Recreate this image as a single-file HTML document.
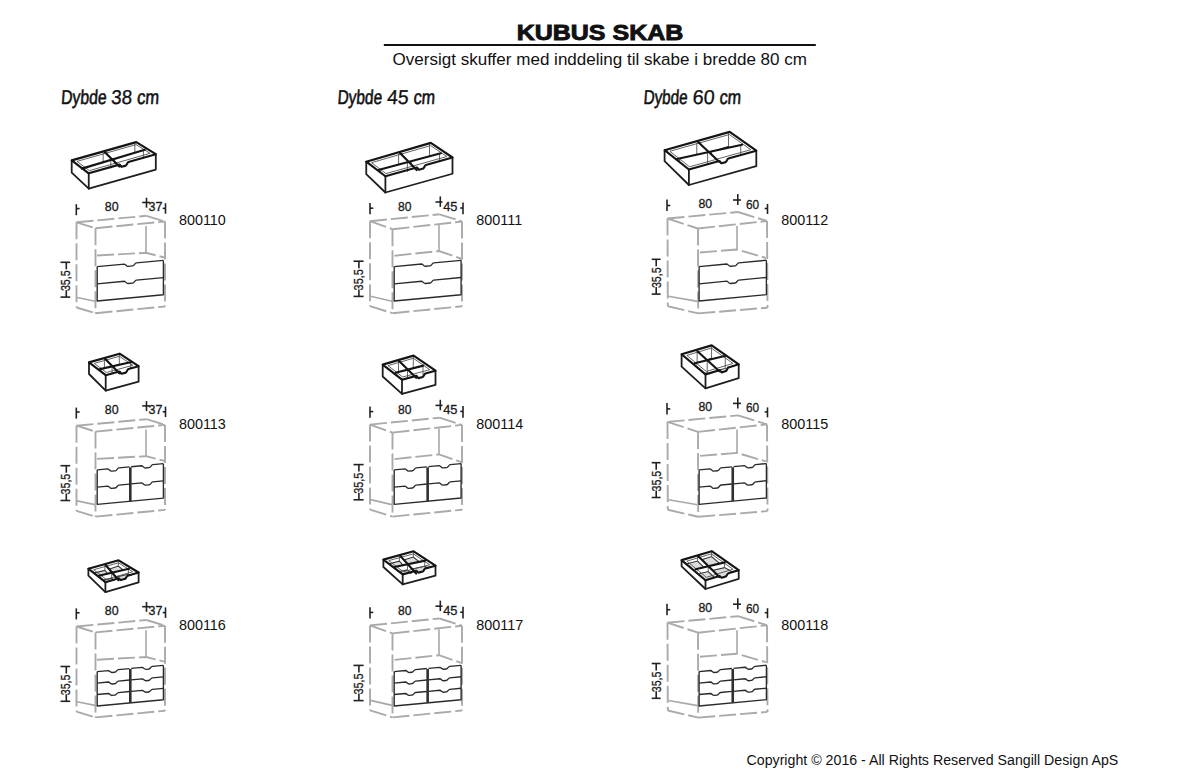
<!DOCTYPE html>
<html><head><meta charset="utf-8"><title>Kubus Skab</title>
<style>
html,body{margin:0;padding:0;background:#fff;}
body{width:1200px;height:777px;overflow:hidden;position:relative;}
svg{position:absolute;left:0;top:0;}
.ol2{fill:none;stroke:#1e1e1e;stroke-width:1.8;stroke-linejoin:round;stroke-linecap:round;}
.ol{fill:none;stroke:#141414;stroke-width:2.15;stroke-linejoin:round;stroke-linecap:round;}
.div{fill:none;stroke:#141414;stroke-width:2.15;stroke-linecap:round;}
.ig{fill:none;stroke:#505050;stroke-width:0.9;}
.ivg{stroke:#666;stroke-width:1.0;}
.flr{fill:#dcdcdc;stroke:#333;stroke-width:1.1;}
.gd{stroke:#aaaaaa;stroke-width:1.9;stroke-dasharray:17 4;fill:none;filter:blur(0.35px);}
.gd2{stroke:#a8a8a8;stroke-width:1.6;fill:none;filter:blur(0.35px);}
.dr{fill:none;stroke:#2a2a2a;stroke-width:1.35;stroke-linejoin:round;}
.drm{stroke:#303030;stroke-width:2.6;}
.tk{stroke:#222;stroke-width:1.6;}
.dim{font-family:"Liberation Sans",sans-serif;font-size:13px;fill:#1a1a1a;stroke:#1a1a1a;stroke-width:0.32;}
.code{font-family:"Liberation Sans",sans-serif;font-size:14.4px;fill:#111;}
.dyb{font-family:"Liberation Sans",sans-serif;font-size:20px;fill:#111;stroke:#111;stroke-width:0.6;}
.dybn{stroke-width:0.3;}
.t{font-family:"Liberation Sans",sans-serif;fill:#111;}
</style></head><body>
<svg width="1200" height="777" viewBox="0 0 1200 777">
<text x="516.7" y="40" class="t" font-size="22" font-weight="bold" stroke="#111" stroke-width="0.9" textLength="166.6" lengthAdjust="spacingAndGlyphs">KUBUS SKAB</text>
<line x1="383.8" y1="45" x2="815.8" y2="45" stroke="#111" stroke-width="1.8"/>
<text x="392.5" y="64.6" class="t" font-size="17.4" textLength="414.5" lengthAdjust="spacingAndGlyphs">Oversigt skuffer med inddeling til skabe i bredde 80 cm</text>
<text transform="translate(60.7,104) skewX(-4)" class="dyb" textLength="45.5" lengthAdjust="spacingAndGlyphs">Dybde</text>
<text transform="translate(110.7,104) skewX(-4)" class="dyb dybn" textLength="21.0" lengthAdjust="spacingAndGlyphs">38</text>
<text transform="translate(136.7,104) skewX(-4)" class="dyb" textLength="22" lengthAdjust="spacingAndGlyphs">cm</text>
<text transform="translate(337.2,104) skewX(-4)" class="dyb" textLength="44.5" lengthAdjust="spacingAndGlyphs">Dybde</text>
<text transform="translate(386.7,104) skewX(-4)" class="dyb dybn" textLength="21.5" lengthAdjust="spacingAndGlyphs">45</text>
<text transform="translate(413.2,104) skewX(-4)" class="dyb" textLength="21.5" lengthAdjust="spacingAndGlyphs">cm</text>
<text transform="translate(643.2,104) skewX(-4)" class="dyb" textLength="44" lengthAdjust="spacingAndGlyphs">Dybde</text>
<text transform="translate(692.2,104) skewX(-4)" class="dyb dybn" textLength="22" lengthAdjust="spacingAndGlyphs">60</text>
<text transform="translate(719.2,104) skewX(-4)" class="dyb" textLength="21.5" lengthAdjust="spacingAndGlyphs">cm</text>
<text x="746.5" y="764.6" class="t" font-size="14" textLength="371.8" lengthAdjust="spacingAndGlyphs">Copyright © 2016 - All Rights Reserved Sangill Design ApS</text>
<clipPath id="k1"><polygon points="71.70,160.40 104.60,152.00 112.20,159.54 81.90,168.60"/></clipPath>
<g clip-path="url(#k1)">
<polygon points="74.21,173.46 103.16,166.07 109.84,172.71 83.18,180.67" class="flr"/>
<line x1="74.21" y1="160.37" x2="74.21" y2="173.46" class="ivg"/>
<line x1="103.16" y1="152.98" x2="103.16" y2="166.07" class="ivg"/>
</g>
<clipPath id="k2"><polygon points="104.60,152.00 136.25,142.10 144.80,149.80 112.20,159.54"/></clipPath>
<g clip-path="url(#k2)">
<polygon points="106.98,164.95 134.84,156.24 142.36,163.02 113.67,171.59" class="flr"/>
<line x1="106.98" y1="151.86" x2="106.98" y2="164.95" class="ivg"/>
<line x1="134.84" y1="143.15" x2="134.84" y2="156.24" class="ivg"/>
</g>
<clipPath id="k3"><polygon points="81.90,168.60 112.20,159.54 119.30,166.60 88.75,173.30"/></clipPath>
<g clip-path="url(#k3)">
<polygon points="84.14,181.50 110.80,173.53 117.05,179.74 90.16,185.64" class="flr"/>
<line x1="84.14" y1="168.41" x2="84.14" y2="181.50" class="ivg"/>
<line x1="110.80" y1="160.44" x2="110.80" y2="173.53" class="ivg"/>
</g>
<clipPath id="k4"><polygon points="112.20,159.54 144.80,149.80 155.80,154.20 119.30,166.60"/></clipPath>
<g clip-path="url(#k4)">
<polygon points="114.70,172.39 143.39,163.82 153.07,167.69 120.95,178.60" class="flr"/>
<line x1="114.70" y1="159.30" x2="114.70" y2="172.39" class="ivg"/>
<line x1="143.39" y1="150.73" x2="143.39" y2="163.82" class="ivg"/>
</g>
<polygon points="76.99,161.39 136.09,144.62 150.07,153.35 89.34,170.64" class="ig"/>
<line x1="104.60" y1="152.00" x2="119.30" y2="166.60" class="div"/>
<line x1="81.90" y1="168.60" x2="144.80" y2="149.80" class="div"/>
<polyline points="71.70,160.40 71.70,172.60 88.75,188.70 155.80,169.60 155.80,154.20" class="ol2"/>
<line x1="88.75" y1="173.30" x2="88.75" y2="188.70" class="ol2"/>
<path d="M71.70,160.40 L136.25,142.10 L155.80,154.20 L128.44,161.99 C127.24,162.29 126.64,165.63 125.84,165.63 L121.61,166.84 C120.81,166.84 120.50,164.90 119.30,164.60 L88.75,173.30 Z" class="ol"/>
<line x1="76.50" y1="222.30" x2="76.50" y2="307.50" class="gd"/>
<line x1="95.50" y1="228.20" x2="95.50" y2="313.20" class="gd"/>
<line x1="165.00" y1="221.50" x2="165.00" y2="306.50" class="gd"/>
<line x1="76.50" y1="222.30" x2="146.50" y2="215.80" class="gd"/>
<line x1="95.50" y1="228.20" x2="165.00" y2="221.50" class="gd"/>
<line x1="76.50" y1="222.30" x2="95.50" y2="228.20" class="gd"/>
<line x1="146.50" y1="215.80" x2="165.00" y2="221.50" class="gd"/>
<line x1="76.50" y1="307.50" x2="95.50" y2="313.20" class="gd"/>
<line x1="95.50" y1="313.20" x2="165.00" y2="306.50" class="gd"/>
<line x1="146.00" y1="226.00" x2="146.00" y2="252.80" class="gd2"/>
<polyline points="97.00,255.50 146.00,252.80 164.50,257.50" class="gd"/>
<line x1="77.00" y1="297.50" x2="95.00" y2="301.20" class="gd2"/>
<polyline points="97.20,266.60 97.20,301.00 163.40,294.78 163.40,260.38" class="dr"/>
<path d="M97.20,266.60 L124.30,264.05 C125.80,264.25 126.30,266.46 127.90,266.31 L132.70,265.86 C134.30,265.71 134.80,263.12 136.30,262.92 L163.40,260.38" class="dr"/>
<path d="M97.20,283.80 L124.30,281.25 C125.80,281.45 126.30,283.66 127.90,283.51 L132.70,283.06 C134.30,282.91 134.80,280.32 136.30,280.12 L163.40,277.58" class="dr"/>
<line x1="76.30" y1="204.20" x2="76.30" y2="215.20" class="tk"/>
<line x1="76.30" y1="208.60" x2="79.60" y2="208.60" class="tk"/>
<text x="104.80" y="210.60" class="dim" textLength="13.80" lengthAdjust="spacingAndGlyphs">80</text>
<line x1="146.50" y1="197.70" x2="146.50" y2="207.70" class="tk"/>
<line x1="142.20" y1="202.50" x2="150.00" y2="202.50" class="tk"/>
<text x="148.60" y="210.60" class="dim" textLength="13.90" lengthAdjust="spacingAndGlyphs">37</text>
<line x1="165.50" y1="203.20" x2="165.50" y2="213.70" class="tk"/>
<line x1="162.70" y1="208.40" x2="165.50" y2="208.40" class="tk"/>
<line x1="60.50" y1="262.30" x2="70.20" y2="262.30" class="tk"/>
<line x1="66.30" y1="262.30" x2="66.30" y2="269.30" class="tk"/>
<line x1="60.50" y1="297.10" x2="70.20" y2="297.10" class="tk"/>
<line x1="66.30" y1="297.10" x2="66.30" y2="290.10" class="tk"/>
<text transform="translate(69.80,291.10) rotate(-90)" class="dim" textLength="20.80" lengthAdjust="spacingAndGlyphs">35,5</text>
<text x="178.90" y="224.80" class="code">800110</text>
<clipPath id="k5"><polygon points="366.25,161.70 400.00,152.90 408.75,161.86 378.30,170.00"/></clipPath>
<g clip-path="url(#k5)">
<polygon points="368.90,175.50 398.60,167.76 406.30,175.65 379.50,182.81" class="flr"/>
<line x1="368.90" y1="161.69" x2="368.90" y2="175.50" class="ivg"/>
<line x1="398.60" y1="153.95" x2="398.60" y2="167.76" class="ivg"/>
</g>
<clipPath id="k6"><polygon points="400.00,152.90 430.80,142.90 440.80,153.30 408.75,161.86"/></clipPath>
<g clip-path="url(#k6)">
<polygon points="402.41,166.69 429.51,157.89 438.31,167.05 410.11,174.58" class="flr"/>
<line x1="402.41" y1="152.88" x2="402.41" y2="166.69" class="ivg"/>
<line x1="429.51" y1="144.08" x2="429.51" y2="157.89" class="ivg"/>
</g>
<clipPath id="k7"><polygon points="378.30,170.00 408.75,161.86 416.70,170.00 385.40,176.25"/></clipPath>
<g clip-path="url(#k7)">
<polygon points="380.58,183.76 407.38,176.60 414.37,183.76 386.83,189.26" class="flr"/>
<line x1="380.58" y1="169.94" x2="380.58" y2="183.76" class="ivg"/>
<line x1="407.38" y1="162.78" x2="407.38" y2="176.60" class="ivg"/>
</g>
<clipPath id="k8"><polygon points="408.75,161.86 440.80,153.30 452.50,157.50 416.70,170.00"/></clipPath>
<g clip-path="url(#k8)">
<polygon points="411.27,175.53 439.47,168.00 449.76,171.69 418.26,182.69" class="flr"/>
<line x1="411.27" y1="161.72" x2="411.27" y2="175.53" class="ivg"/>
<line x1="439.47" y1="154.18" x2="439.47" y2="168.00" class="ivg"/>
</g>
<polygon points="371.53,162.68 430.61,145.56 446.81,156.52 385.99,173.60" class="ig"/>
<line x1="400.00" y1="152.90" x2="416.70" y2="170.00" class="div"/>
<line x1="378.30" y1="170.00" x2="440.80" y2="153.30" class="div"/>
<polyline points="366.25,161.70 366.25,174.20 385.40,192.50 452.50,173.75 452.50,157.50" class="ol2"/>
<line x1="385.40" y1="176.25" x2="385.40" y2="192.50" class="ol2"/>
<path d="M366.25,161.70 L430.80,142.90 L452.50,157.50 L425.85,164.95 C424.65,165.25 424.05,168.57 423.25,168.57 L419.01,169.76 C418.21,169.76 417.90,167.80 416.70,167.50 L385.40,176.25 Z" class="ol"/>
<line x1="370.00" y1="221.20" x2="370.00" y2="306.20" class="gd"/>
<line x1="392.50" y1="229.20" x2="392.50" y2="313.20" class="gd"/>
<line x1="462.00" y1="221.50" x2="462.00" y2="306.30" class="gd"/>
<line x1="370.00" y1="221.20" x2="439.40" y2="214.30" class="gd"/>
<line x1="392.50" y1="229.20" x2="462.00" y2="221.50" class="gd"/>
<line x1="370.00" y1="221.20" x2="392.50" y2="229.20" class="gd"/>
<line x1="439.40" y1="214.30" x2="462.00" y2="221.50" class="gd"/>
<line x1="370.00" y1="306.20" x2="392.50" y2="313.20" class="gd"/>
<line x1="392.50" y1="313.20" x2="462.00" y2="306.30" class="gd"/>
<line x1="439.00" y1="225.00" x2="439.00" y2="251.00" class="gd2"/>
<polyline points="394.50,255.70 439.00,251.00 462.00,259.00" class="gd"/>
<line x1="370.50" y1="296.20" x2="392.00" y2="301.20" class="gd2"/>
<polyline points="394.20,266.60 394.20,301.00 461.10,294.71 461.10,260.31" class="dr"/>
<path d="M394.20,266.60 L421.65,264.02 C423.15,264.22 423.65,266.43 425.25,266.28 L430.05,265.83 C431.65,265.68 432.15,263.09 433.65,262.89 L461.10,260.31" class="dr"/>
<path d="M394.20,283.80 L421.65,281.22 C423.15,281.42 423.65,283.63 425.25,283.48 L430.05,283.03 C431.65,282.88 432.15,280.29 433.65,280.09 L461.10,277.51" class="dr"/>
<line x1="370.00" y1="203.00" x2="370.00" y2="214.30" class="tk"/>
<line x1="370.00" y1="208.20" x2="373.30" y2="208.20" class="tk"/>
<text x="398.10" y="210.80" class="dim" textLength="13.50" lengthAdjust="spacingAndGlyphs">80</text>
<line x1="440.30" y1="196.40" x2="440.30" y2="206.90" class="tk"/>
<line x1="435.50" y1="202.00" x2="442.50" y2="202.00" class="tk"/>
<text x="443.20" y="210.80" class="dim" textLength="14.30" lengthAdjust="spacingAndGlyphs">45</text>
<line x1="463.00" y1="202.50" x2="463.00" y2="214.30" class="tk"/>
<line x1="460.20" y1="208.00" x2="463.00" y2="208.00" class="tk"/>
<line x1="353.50" y1="261.20" x2="363.60" y2="261.20" class="tk"/>
<line x1="358.90" y1="261.20" x2="358.90" y2="268.20" class="tk"/>
<line x1="353.50" y1="296.40" x2="363.60" y2="296.40" class="tk"/>
<line x1="358.90" y1="296.40" x2="358.90" y2="289.40" class="tk"/>
<text transform="translate(362.80,290.40) rotate(-90)" class="dim" textLength="21.20" lengthAdjust="spacingAndGlyphs">35,5</text>
<text x="476.30" y="224.80" class="code">800111</text>
<clipPath id="k9"><polygon points="664.60,150.20 698.10,142.00 708.81,152.00 677.00,159.00"/></clipPath>
<g clip-path="url(#k9)">
<polygon points="667.30,163.45 696.78,156.23 706.21,165.03 678.22,171.19" class="flr"/>
<line x1="667.30" y1="150.27" x2="667.30" y2="163.45" class="ivg"/>
<line x1="696.78" y1="143.06" x2="696.78" y2="156.23" class="ivg"/>
</g>
<clipPath id="k10"><polygon points="698.10,142.00 729.70,131.90 742.00,144.70 708.81,152.00"/></clipPath>
<g clip-path="url(#k10)">
<polygon points="700.69,155.25 728.49,146.37 739.32,157.63 710.11,164.05" class="flr"/>
<line x1="700.69" y1="142.08" x2="700.69" y2="155.25" class="ivg"/>
<line x1="728.49" y1="133.19" x2="728.49" y2="146.37" class="ivg"/>
</g>
<clipPath id="k11"><polygon points="677.00,159.00 708.81,152.00 719.20,161.70 688.90,169.50"/></clipPath>
<g clip-path="url(#k11)">
<polygon points="679.58,172.36 707.57,166.20 716.71,174.74 690.05,181.60" class="flr"/>
<line x1="679.58" y1="159.19" x2="679.58" y2="172.36" class="ivg"/>
<line x1="707.57" y1="153.03" x2="707.57" y2="166.20" class="ivg"/>
</g>
<clipPath id="k12"><polygon points="708.81,152.00 742.00,144.70 756.30,150.70 719.20,161.70"/></clipPath>
<g clip-path="url(#k12)">
<polygon points="711.54,165.21 740.75,158.78 753.33,164.06 720.69,173.74" class="flr"/>
<line x1="711.54" y1="152.03" x2="711.54" y2="165.21" class="ivg"/>
<line x1="740.75" y1="145.61" x2="740.75" y2="158.78" class="ivg"/>
</g>
<polygon points="669.85,151.25 729.37,134.53 750.75,149.71 689.53,166.80" class="ig"/>
<line x1="698.10" y1="142.00" x2="719.20" y2="161.70" class="div"/>
<line x1="677.00" y1="159.00" x2="742.00" y2="144.70" class="div"/>
<polyline points="664.60,150.20 664.60,161.20 688.90,185.00 756.30,166.20 756.30,150.70" class="ol2"/>
<line x1="688.90" y1="169.50" x2="688.90" y2="185.00" class="ol2"/>
<path d="M664.60,150.20 L729.70,131.90 L756.30,150.70 L728.35,158.50 C727.15,158.80 726.55,162.12 725.75,162.12 L721.51,163.30 C720.71,163.30 720.40,161.35 719.20,161.05 L688.90,169.50 Z" class="ol"/>
<line x1="667.50" y1="218.50" x2="667.80" y2="306.30" class="gd"/>
<line x1="698.00" y1="228.50" x2="698.20" y2="313.40" class="gd"/>
<line x1="767.00" y1="221.00" x2="767.50" y2="307.70" class="gd"/>
<line x1="667.50" y1="218.50" x2="738.00" y2="212.00" class="gd"/>
<line x1="698.00" y1="228.50" x2="767.00" y2="221.00" class="gd"/>
<line x1="667.50" y1="218.50" x2="698.00" y2="228.50" class="gd"/>
<line x1="738.00" y1="212.00" x2="767.00" y2="221.00" class="gd"/>
<line x1="667.80" y1="306.30" x2="698.20" y2="313.40" class="gd"/>
<line x1="698.20" y1="313.40" x2="767.50" y2="307.70" class="gd"/>
<line x1="737.00" y1="226.00" x2="737.00" y2="249.50" class="gd2"/>
<polyline points="700.00,252.50 737.00,249.50 766.00,258.00" class="gd"/>
<line x1="668.30" y1="296.30" x2="697.70" y2="301.40" class="gd2"/>
<polyline points="699.10,266.60 699.10,301.00 766.40,294.67 766.40,260.27" class="dr"/>
<path d="M699.10,266.60 L726.75,264.00 C728.25,264.20 728.75,266.41 730.35,266.26 L735.15,265.81 C736.75,265.66 737.25,263.07 738.75,262.87 L766.40,260.27" class="dr"/>
<path d="M699.10,283.80 L726.75,281.20 C728.25,281.40 728.75,283.61 730.35,283.46 L735.15,283.01 C736.75,282.86 737.25,280.27 738.75,280.07 L766.40,277.47" class="dr"/>
<line x1="667.00" y1="199.50" x2="667.00" y2="211.00" class="tk"/>
<line x1="667.00" y1="205.50" x2="670.30" y2="205.50" class="tk"/>
<text x="698.40" y="207.50" class="dim" textLength="13.70" lengthAdjust="spacingAndGlyphs">80</text>
<line x1="737.80" y1="194.00" x2="737.80" y2="205.00" class="tk"/>
<line x1="733.00" y1="200.00" x2="741.00" y2="200.00" class="tk"/>
<text x="745.90" y="208.50" class="dim" textLength="13.20" lengthAdjust="spacingAndGlyphs">60</text>
<line x1="767.50" y1="204.00" x2="767.50" y2="214.00" class="tk"/>
<line x1="764.70" y1="208.50" x2="767.50" y2="208.50" class="tk"/>
<line x1="651.70" y1="259.30" x2="660.60" y2="259.30" class="tk"/>
<line x1="656.20" y1="259.30" x2="656.20" y2="266.30" class="tk"/>
<line x1="651.70" y1="294.10" x2="660.60" y2="294.10" class="tk"/>
<line x1="656.20" y1="294.10" x2="656.20" y2="287.10" class="tk"/>
<text transform="translate(660.70,288.10) rotate(-90)" class="dim" textLength="20.80" lengthAdjust="spacingAndGlyphs">35,5</text>
<text x="781.20" y="224.80" class="code">800112</text>
<clipPath id="k13"><polygon points="89.00,362.40 104.80,358.50 112.44,366.30 100.00,369.10"/></clipPath>
<g clip-path="url(#k13)">
<polygon points="90.51,375.78 104.41,372.34 111.13,379.20 100.19,381.67" class="flr"/>
<line x1="90.51" y1="362.60" x2="90.51" y2="375.78" class="ivg"/>
<line x1="104.41" y1="359.17" x2="104.41" y2="372.34" class="ivg"/>
</g>
<clipPath id="k14"><polygon points="104.80,358.50 119.60,353.70 131.50,362.00 112.44,366.30"/></clipPath>
<g clip-path="url(#k14)">
<polygon points="106.27,371.87 119.30,367.65 129.77,374.95 113.00,378.73" class="flr"/>
<line x1="106.27" y1="358.69" x2="106.27" y2="371.87" class="ivg"/>
<line x1="119.30" y1="354.47" x2="119.30" y2="367.65" class="ivg"/>
</g>
<clipPath id="k15"><polygon points="100.00,369.10 112.44,366.30 119.30,373.30 105.70,375.20"/></clipPath>
<g clip-path="url(#k15)">
<polygon points="101.12,382.50 112.07,380.03 118.11,386.20 106.14,387.87" class="flr"/>
<line x1="101.12" y1="369.32" x2="101.12" y2="382.50" class="ivg"/>
<line x1="112.07" y1="366.86" x2="112.07" y2="380.03" class="ivg"/>
</g>
<clipPath id="k16"><polygon points="112.44,366.30 131.50,362.00 138.60,366.20 119.30,373.30"/></clipPath>
<g clip-path="url(#k16)">
<polygon points="114.00,379.55 130.78,375.77 137.02,379.46 120.04,385.71" class="flr"/>
<line x1="114.00" y1="366.37" x2="114.00" y2="379.55" class="ivg"/>
<line x1="130.78" y1="362.59" x2="130.78" y2="375.77" class="ivg"/>
</g>
<polygon points="94.30,363.40 119.39,356.31 132.82,365.26 106.39,372.53" class="ig"/>
<line x1="104.80" y1="358.50" x2="119.30" y2="373.30" class="div"/>
<line x1="100.00" y1="369.10" x2="131.50" y2="362.00" class="div"/>
<polyline points="89.00,362.40 89.00,374.00 105.70,390.70 138.60,381.70 138.60,366.20" class="ol2"/>
<line x1="105.70" y1="375.20" x2="105.70" y2="390.70" class="ol2"/>
<path d="M89.00,362.40 L119.60,353.70 L138.60,366.20 L128.46,368.97 C127.26,369.27 126.66,372.59 125.86,372.59 L121.61,373.75 C120.81,373.75 120.50,371.78 119.30,371.48 L105.70,375.20 Z" class="ol"/>
<line x1="76.50" y1="425.70" x2="76.50" y2="510.90" class="gd"/>
<line x1="95.50" y1="431.60" x2="95.50" y2="516.60" class="gd"/>
<line x1="165.00" y1="424.90" x2="165.00" y2="509.90" class="gd"/>
<line x1="76.50" y1="425.70" x2="146.50" y2="419.20" class="gd"/>
<line x1="95.50" y1="431.60" x2="165.00" y2="424.90" class="gd"/>
<line x1="76.50" y1="425.70" x2="95.50" y2="431.60" class="gd"/>
<line x1="146.50" y1="419.20" x2="165.00" y2="424.90" class="gd"/>
<line x1="76.50" y1="510.90" x2="95.50" y2="516.60" class="gd"/>
<line x1="95.50" y1="516.60" x2="165.00" y2="509.90" class="gd"/>
<line x1="146.00" y1="429.40" x2="146.00" y2="456.20" class="gd2"/>
<polyline points="97.00,458.90 146.00,456.20 164.50,460.90" class="gd"/>
<line x1="77.00" y1="500.90" x2="95.00" y2="504.60" class="gd2"/>
<polyline points="97.20,469.90 97.20,504.30 163.40,498.08 163.40,463.68" class="dr"/>
<line x1="130.30" y1="467.29" x2="130.30" y2="501.19" class="drm"/>
<path d="M97.20,469.90 L107.85,468.90 C109.35,469.10 109.85,471.31 111.45,471.16 L115.25,470.80 C116.85,470.65 117.35,468.06 118.85,467.86 L129.50,466.86" class="dr"/>
<path d="M131.10,466.71 L141.75,465.71 C143.25,465.91 143.75,468.12 145.35,467.97 L149.15,467.62 C150.75,467.47 151.25,464.88 152.75,464.68 L163.40,463.68" class="dr"/>
<path d="M97.20,487.10 L107.85,486.10 C109.35,486.30 109.85,488.51 111.45,488.36 L115.25,488.00 C116.85,487.85 117.35,485.26 118.85,485.06 L129.50,484.06" class="dr"/>
<path d="M131.10,483.91 L141.75,482.91 C143.25,483.11 143.75,485.32 145.35,485.17 L149.15,484.82 C150.75,484.67 151.25,482.08 152.75,481.88 L163.40,480.88" class="dr"/>
<line x1="76.30" y1="407.60" x2="76.30" y2="418.60" class="tk"/>
<line x1="76.30" y1="412.00" x2="79.60" y2="412.00" class="tk"/>
<text x="104.80" y="414.00" class="dim" textLength="13.80" lengthAdjust="spacingAndGlyphs">80</text>
<line x1="146.50" y1="401.10" x2="146.50" y2="411.10" class="tk"/>
<line x1="142.20" y1="405.90" x2="150.00" y2="405.90" class="tk"/>
<text x="148.60" y="414.00" class="dim" textLength="13.90" lengthAdjust="spacingAndGlyphs">37</text>
<line x1="165.50" y1="406.60" x2="165.50" y2="417.10" class="tk"/>
<line x1="162.70" y1="411.80" x2="165.50" y2="411.80" class="tk"/>
<line x1="60.50" y1="465.70" x2="70.20" y2="465.70" class="tk"/>
<line x1="66.30" y1="465.70" x2="66.30" y2="472.70" class="tk"/>
<line x1="60.50" y1="500.50" x2="70.20" y2="500.50" class="tk"/>
<line x1="66.30" y1="500.50" x2="66.30" y2="493.50" class="tk"/>
<text transform="translate(69.80,494.50) rotate(-90)" class="dim" textLength="20.80" lengthAdjust="spacingAndGlyphs">35,5</text>
<text x="178.90" y="428.90" class="code">800113</text>
<clipPath id="k17"><polygon points="382.70,364.60 398.80,360.80 407.78,369.58 395.60,372.70"/></clipPath>
<g clip-path="url(#k17)">
<polygon points="384.32,376.95 398.49,373.60 406.40,381.33 395.67,384.08" class="flr"/>
<line x1="384.32" y1="364.88" x2="384.32" y2="376.95" class="ivg"/>
<line x1="398.49" y1="361.53" x2="398.49" y2="373.60" class="ivg"/>
</g>
<clipPath id="k18"><polygon points="398.80,360.80 413.60,355.60 423.30,365.60 407.78,369.58"/></clipPath>
<g clip-path="url(#k18)">
<polygon points="400.25,373.12 413.27,368.55 421.81,377.35 408.15,380.85" class="flr"/>
<line x1="400.25" y1="361.05" x2="400.25" y2="373.12" class="ivg"/>
<line x1="413.27" y1="356.48" x2="413.27" y2="368.55" class="ivg"/>
</g>
<clipPath id="k19"><polygon points="395.60,372.70 407.78,369.58 416.20,377.80 402.00,379.70"/></clipPath>
<g clip-path="url(#k19)">
<polygon points="396.78,385.04 407.50,382.29 414.90,389.53 402.41,391.20" class="flr"/>
<line x1="396.78" y1="372.97" x2="396.78" y2="385.04" class="ivg"/>
<line x1="407.50" y1="370.22" x2="407.50" y2="382.29" class="ivg"/>
</g>
<clipPath id="k20"><polygon points="407.78,369.58 423.30,365.60 435.50,370.70 416.20,377.80"/></clipPath>
<g clip-path="url(#k20)">
<polygon points="409.33,381.81 422.99,378.31 433.72,382.80 416.74,389.04" class="flr"/>
<line x1="409.33" y1="369.74" x2="409.33" y2="381.81" class="ivg"/>
<line x1="422.99" y1="366.24" x2="422.99" y2="378.31" class="ivg"/>
</g>
<polygon points="387.97,365.61 413.37,358.29 429.73,369.69 402.73,377.01" class="ig"/>
<line x1="398.80" y1="360.80" x2="416.20" y2="377.80" class="div"/>
<line x1="395.60" y1="372.70" x2="423.30" y2="365.60" class="div"/>
<polyline points="382.70,364.60 382.70,376.50 402.00,393.90 435.50,384.90 435.50,370.70" class="ol2"/>
<line x1="402.00" y1="379.70" x2="402.00" y2="393.90" class="ol2"/>
<path d="M382.70,364.60 L413.60,355.60 L435.50,370.70 L425.37,373.42 C424.17,373.72 423.57,377.02 422.77,377.02 L418.52,378.16 C417.72,378.16 417.40,376.19 416.20,375.89 L402.00,379.70 Z" class="ol"/>
<line x1="370.00" y1="424.60" x2="370.00" y2="509.60" class="gd"/>
<line x1="392.50" y1="432.60" x2="392.50" y2="516.60" class="gd"/>
<line x1="462.00" y1="424.90" x2="462.00" y2="509.70" class="gd"/>
<line x1="370.00" y1="424.60" x2="439.40" y2="417.70" class="gd"/>
<line x1="392.50" y1="432.60" x2="462.00" y2="424.90" class="gd"/>
<line x1="370.00" y1="424.60" x2="392.50" y2="432.60" class="gd"/>
<line x1="439.40" y1="417.70" x2="462.00" y2="424.90" class="gd"/>
<line x1="370.00" y1="509.60" x2="392.50" y2="516.60" class="gd"/>
<line x1="392.50" y1="516.60" x2="462.00" y2="509.70" class="gd"/>
<line x1="439.00" y1="428.40" x2="439.00" y2="454.40" class="gd2"/>
<polyline points="394.50,459.10 439.00,454.40 462.00,462.40" class="gd"/>
<line x1="370.50" y1="499.60" x2="392.00" y2="504.60" class="gd2"/>
<polyline points="394.20,469.90 394.20,504.30 461.10,498.01 461.10,463.61" class="dr"/>
<line x1="427.65" y1="467.26" x2="427.65" y2="501.16" class="drm"/>
<path d="M394.20,469.90 L405.02,468.88 C406.52,469.08 407.02,471.29 408.62,471.14 L412.42,470.79 C414.02,470.64 414.52,468.05 416.02,467.85 L426.85,466.83" class="dr"/>
<path d="M428.45,466.68 L439.27,465.66 C440.77,465.86 441.27,468.07 442.88,467.92 L446.67,467.57 C448.27,467.42 448.77,464.83 450.27,464.63 L461.10,463.61" class="dr"/>
<path d="M394.20,487.10 L405.02,486.08 C406.52,486.28 407.02,488.49 408.62,488.34 L412.42,487.99 C414.02,487.84 414.52,485.25 416.02,485.05 L426.85,484.03" class="dr"/>
<path d="M428.45,483.88 L439.27,482.86 C440.77,483.06 441.27,485.27 442.88,485.12 L446.67,484.77 C448.27,484.62 448.77,482.03 450.27,481.83 L461.10,480.81" class="dr"/>
<line x1="370.00" y1="406.40" x2="370.00" y2="417.70" class="tk"/>
<line x1="370.00" y1="411.60" x2="373.30" y2="411.60" class="tk"/>
<text x="398.10" y="414.20" class="dim" textLength="13.50" lengthAdjust="spacingAndGlyphs">80</text>
<line x1="440.30" y1="399.80" x2="440.30" y2="410.30" class="tk"/>
<line x1="435.50" y1="405.40" x2="442.50" y2="405.40" class="tk"/>
<text x="443.20" y="414.20" class="dim" textLength="14.30" lengthAdjust="spacingAndGlyphs">45</text>
<line x1="463.00" y1="405.90" x2="463.00" y2="417.70" class="tk"/>
<line x1="460.20" y1="411.40" x2="463.00" y2="411.40" class="tk"/>
<line x1="353.50" y1="464.60" x2="363.60" y2="464.60" class="tk"/>
<line x1="358.90" y1="464.60" x2="358.90" y2="471.60" class="tk"/>
<line x1="353.50" y1="499.80" x2="363.60" y2="499.80" class="tk"/>
<line x1="358.90" y1="499.80" x2="358.90" y2="492.80" class="tk"/>
<text transform="translate(362.80,493.80) rotate(-90)" class="dim" textLength="21.20" lengthAdjust="spacingAndGlyphs">35,5</text>
<text x="476.30" y="428.90" class="code">800114</text>
<clipPath id="k21"><polygon points="681.60,354.30 697.40,351.20 707.25,360.20 694.70,363.20"/></clipPath>
<g clip-path="url(#k21)">
<polygon points="683.24,366.47 697.14,363.74 705.80,371.65 694.76,374.30" class="flr"/>
<line x1="683.24" y1="354.65" x2="683.24" y2="366.47" class="ivg"/>
<line x1="697.14" y1="351.92" x2="697.14" y2="363.74" class="ivg"/>
</g>
<clipPath id="k22"><polygon points="697.40,351.20 711.70,345.40 725.60,355.80 707.25,360.20"/></clipPath>
<g clip-path="url(#k22)">
<polygon points="698.97,363.25 711.55,358.14 723.79,367.30 707.63,371.16" class="flr"/>
<line x1="698.97" y1="351.43" x2="698.97" y2="363.25" class="ivg"/>
<line x1="711.55" y1="346.33" x2="711.55" y2="358.14" class="ivg"/>
</g>
<clipPath id="k23"><polygon points="694.70,363.20 707.25,360.20 719.40,371.30 705.50,374.40"/></clipPath>
<g clip-path="url(#k23)">
<polygon points="696.14,375.50 707.18,372.86 717.88,382.63 705.65,385.36" class="flr"/>
<line x1="696.14" y1="363.69" x2="696.14" y2="375.50" class="ivg"/>
<line x1="707.18" y1="361.04" x2="707.18" y2="372.86" class="ivg"/>
</g>
<clipPath id="k24"><polygon points="707.25,360.20 725.60,355.80 738.70,364.30 719.40,371.30"/></clipPath>
<g clip-path="url(#k24)">
<polygon points="709.10,372.33 725.26,368.47 736.78,375.95 719.80,382.11" class="flr"/>
<line x1="709.10" y1="360.52" x2="709.10" y2="372.33" class="ivg"/>
<line x1="725.26" y1="356.65" x2="725.26" y2="368.47" class="ivg"/>
</g>
<polygon points="686.80,355.37 711.39,348.08 732.96,363.44 706.35,371.51" class="ig"/>
<line x1="697.40" y1="351.20" x2="719.40" y2="371.30" class="div"/>
<line x1="694.70" y1="363.20" x2="725.60" y2="355.80" class="div"/>
<polyline points="681.60,354.30 681.60,366.70 705.50,388.30 738.70,378.20 738.70,364.30" class="ol2"/>
<line x1="705.50" y1="374.40" x2="705.50" y2="388.30" class="ol2"/>
<path d="M681.60,354.30 L711.70,345.40 L738.70,364.30 L728.49,367.41 C727.29,367.71 726.71,371.09 725.91,371.09 L721.70,372.37 C720.90,372.37 720.60,370.47 719.40,370.17 L705.50,374.40 Z" class="ol"/>
<line x1="667.50" y1="421.90" x2="667.80" y2="509.70" class="gd"/>
<line x1="698.00" y1="431.90" x2="698.20" y2="516.80" class="gd"/>
<line x1="767.00" y1="424.40" x2="767.50" y2="511.10" class="gd"/>
<line x1="667.50" y1="421.90" x2="738.00" y2="415.40" class="gd"/>
<line x1="698.00" y1="431.90" x2="767.00" y2="424.40" class="gd"/>
<line x1="667.50" y1="421.90" x2="698.00" y2="431.90" class="gd"/>
<line x1="738.00" y1="415.40" x2="767.00" y2="424.40" class="gd"/>
<line x1="667.80" y1="509.70" x2="698.20" y2="516.80" class="gd"/>
<line x1="698.20" y1="516.80" x2="767.50" y2="511.10" class="gd"/>
<line x1="737.00" y1="429.40" x2="737.00" y2="452.90" class="gd2"/>
<polyline points="700.00,455.90 737.00,452.90 766.00,461.40" class="gd"/>
<line x1="668.30" y1="499.70" x2="697.70" y2="504.80" class="gd2"/>
<polyline points="699.10,469.90 699.10,504.30 766.40,497.97 766.40,463.57" class="dr"/>
<line x1="732.75" y1="467.24" x2="732.75" y2="501.14" class="drm"/>
<path d="M699.10,469.90 L710.03,468.87 C711.53,469.07 712.03,471.29 713.63,471.13 L717.43,470.78 C719.03,470.63 719.53,468.04 721.03,467.84 L731.95,466.81" class="dr"/>
<path d="M733.55,466.66 L744.47,465.63 C745.97,465.83 746.47,468.05 748.07,467.90 L751.87,467.54 C753.47,467.39 753.97,464.80 755.47,464.60 L766.40,463.57" class="dr"/>
<path d="M699.10,487.10 L710.03,486.07 C711.53,486.27 712.03,488.49 713.63,488.33 L717.43,487.98 C719.03,487.83 719.53,485.24 721.03,485.04 L731.95,484.01" class="dr"/>
<path d="M733.55,483.86 L744.47,482.83 C745.97,483.03 746.47,485.25 748.07,485.10 L751.87,484.74 C753.47,484.59 753.97,482.00 755.47,481.80 L766.40,480.77" class="dr"/>
<line x1="667.00" y1="402.90" x2="667.00" y2="414.40" class="tk"/>
<line x1="667.00" y1="408.90" x2="670.30" y2="408.90" class="tk"/>
<text x="698.40" y="410.90" class="dim" textLength="13.70" lengthAdjust="spacingAndGlyphs">80</text>
<line x1="737.80" y1="397.40" x2="737.80" y2="408.40" class="tk"/>
<line x1="733.00" y1="403.40" x2="741.00" y2="403.40" class="tk"/>
<text x="745.90" y="411.90" class="dim" textLength="13.20" lengthAdjust="spacingAndGlyphs">60</text>
<line x1="767.50" y1="407.40" x2="767.50" y2="417.40" class="tk"/>
<line x1="764.70" y1="411.90" x2="767.50" y2="411.90" class="tk"/>
<line x1="651.70" y1="462.70" x2="660.60" y2="462.70" class="tk"/>
<line x1="656.20" y1="462.70" x2="656.20" y2="469.70" class="tk"/>
<line x1="651.70" y1="497.50" x2="660.60" y2="497.50" class="tk"/>
<line x1="656.20" y1="497.50" x2="656.20" y2="490.50" class="tk"/>
<text transform="translate(660.70,491.50) rotate(-90)" class="dim" textLength="20.80" lengthAdjust="spacingAndGlyphs">35,5</text>
<text x="781.20" y="428.90" class="code">800115</text>
<clipPath id="k25"><polygon points="88.40,568.70 105.40,564.80 112.08,572.60 98.70,575.70"/></clipPath>
<g clip-path="url(#k25)">
<polygon points="89.93,573.86 104.89,570.43 110.77,577.29 98.99,580.02" class="flr"/>
<line x1="89.93" y1="568.91" x2="89.93" y2="573.86" class="ivg"/>
<line x1="104.89" y1="565.48" x2="104.89" y2="570.43" class="ivg"/>
</g>
<clipPath id="k26"><polygon points="105.40,564.80 118.60,560.30 128.90,568.70 112.08,572.60"/></clipPath>
<g clip-path="url(#k26)">
<polygon points="106.70,569.97 118.32,566.01 127.38,573.40 112.58,576.83" class="flr"/>
<line x1="106.70" y1="565.02" x2="106.70" y2="569.97" class="ivg"/>
<line x1="118.32" y1="561.06" x2="118.32" y2="566.01" class="ivg"/>
</g>
<clipPath id="k27"><polygon points="98.70,575.70 112.08,572.60 118.60,580.20 105.40,582.20"/></clipPath>
<g clip-path="url(#k27)">
<polygon points="99.90,580.89 111.68,578.16 117.41,584.85 105.80,586.61" class="flr"/>
<line x1="99.90" y1="575.94" x2="99.90" y2="580.89" class="ivg"/>
<line x1="111.68" y1="573.21" x2="111.68" y2="578.16" class="ivg"/>
</g>
<clipPath id="k28"><polygon points="112.08,572.60 128.90,568.70 138.60,572.50 118.60,580.20"/></clipPath>
<g clip-path="url(#k28)">
<polygon points="113.58,577.66 128.38,574.23 136.91,577.57 119.31,584.35" class="flr"/>
<line x1="113.58" y1="572.71" x2="113.58" y2="577.66" class="ivg"/>
<line x1="128.38" y1="569.28" x2="128.38" y2="574.23" class="ivg"/>
</g>
<polygon points="93.68,569.74 118.43,562.81 132.70,571.73 106.19,579.42" class="ig"/>
<line x1="105.40" y1="564.80" x2="118.60" y2="580.20" class="div"/>
<line x1="98.70" y1="575.70" x2="128.90" y2="568.70" class="div"/>
<polyline points="88.40,568.70 88.40,575.70 105.40,592.10 138.60,582.40 138.60,572.50" class="ol2"/>
<line x1="105.40" y1="582.20" x2="105.40" y2="592.10" class="ol2"/>
<path d="M88.40,568.70 L118.60,560.30 L138.60,572.50 L127.72,575.68 C126.52,575.98 125.93,578.84 125.13,578.84 L120.90,580.07 C120.10,580.07 119.80,578.64 118.60,578.34 L105.40,582.20 Z" class="ol"/>
<line x1="76.50" y1="626.50" x2="76.50" y2="711.70" class="gd"/>
<line x1="95.50" y1="632.40" x2="95.50" y2="717.40" class="gd"/>
<line x1="165.00" y1="625.70" x2="165.00" y2="710.70" class="gd"/>
<line x1="76.50" y1="626.50" x2="146.50" y2="620.00" class="gd"/>
<line x1="95.50" y1="632.40" x2="165.00" y2="625.70" class="gd"/>
<line x1="76.50" y1="626.50" x2="95.50" y2="632.40" class="gd"/>
<line x1="146.50" y1="620.00" x2="165.00" y2="625.70" class="gd"/>
<line x1="76.50" y1="711.70" x2="95.50" y2="717.40" class="gd"/>
<line x1="95.50" y1="717.40" x2="165.00" y2="710.70" class="gd"/>
<line x1="146.00" y1="630.20" x2="146.00" y2="657.00" class="gd2"/>
<polyline points="97.00,659.70 146.00,657.00 164.50,661.70" class="gd"/>
<line x1="77.00" y1="701.70" x2="95.00" y2="705.40" class="gd2"/>
<polyline points="97.20,671.60 97.20,706.00 163.40,699.78 163.40,665.38" class="dr"/>
<line x1="130.30" y1="668.99" x2="130.30" y2="702.89" class="drm"/>
<path d="M97.20,671.60 L108.35,670.55 C109.85,670.75 110.35,672.66 111.95,672.51 L114.75,672.25 C116.35,672.10 116.85,669.81 118.35,669.61 L129.50,668.56" class="dr"/>
<path d="M131.10,668.41 L142.25,667.37 C143.75,667.57 144.25,669.48 145.85,669.33 L148.65,669.06 C150.25,668.91 150.75,666.63 152.25,666.43 L163.40,665.38" class="dr"/>
<path d="M97.20,683.07 L108.35,682.02 C109.85,682.22 110.35,684.13 111.95,683.98 L114.75,683.72 C116.35,683.57 116.85,681.28 118.35,681.08 L129.50,680.03" class="dr"/>
<path d="M131.10,679.88 L142.25,678.83 C143.75,679.03 144.25,680.94 145.85,680.79 L148.65,680.53 C150.25,680.38 150.75,678.09 152.25,677.89 L163.40,676.84" class="dr"/>
<path d="M97.20,694.53 L108.35,693.49 C109.85,693.69 110.35,695.60 111.95,695.45 L114.75,695.18 C116.35,695.03 116.85,692.75 118.35,692.55 L129.50,691.50" class="dr"/>
<path d="M131.10,691.35 L142.25,690.30 C143.75,690.50 144.25,692.41 145.85,692.26 L148.65,692.00 C150.25,691.85 150.75,689.56 152.25,689.36 L163.40,688.31" class="dr"/>
<line x1="76.30" y1="608.40" x2="76.30" y2="619.40" class="tk"/>
<line x1="76.30" y1="612.80" x2="79.60" y2="612.80" class="tk"/>
<text x="104.80" y="614.80" class="dim" textLength="13.80" lengthAdjust="spacingAndGlyphs">80</text>
<line x1="146.50" y1="601.90" x2="146.50" y2="611.90" class="tk"/>
<line x1="142.20" y1="606.70" x2="150.00" y2="606.70" class="tk"/>
<text x="148.60" y="614.80" class="dim" textLength="13.90" lengthAdjust="spacingAndGlyphs">37</text>
<line x1="165.50" y1="607.40" x2="165.50" y2="617.90" class="tk"/>
<line x1="162.70" y1="612.60" x2="165.50" y2="612.60" class="tk"/>
<line x1="60.50" y1="666.50" x2="70.20" y2="666.50" class="tk"/>
<line x1="66.30" y1="666.50" x2="66.30" y2="673.50" class="tk"/>
<line x1="60.50" y1="701.30" x2="70.20" y2="701.30" class="tk"/>
<line x1="66.30" y1="701.30" x2="66.30" y2="694.30" class="tk"/>
<text transform="translate(69.80,695.30) rotate(-90)" class="dim" textLength="20.80" lengthAdjust="spacingAndGlyphs">35,5</text>
<text x="178.90" y="629.80" class="code">800116</text>
<clipPath id="k29"><polygon points="383.40,559.60 399.80,555.40 407.78,564.21 394.30,567.00"/></clipPath>
<g clip-path="url(#k29)">
<polygon points="384.95,564.83 399.38,561.14 406.41,568.89 394.54,571.35" class="flr"/>
<line x1="384.95" y1="559.83" x2="384.95" y2="564.83" class="ivg"/>
<line x1="399.38" y1="556.14" x2="399.38" y2="561.14" class="ivg"/>
</g>
<clipPath id="k30"><polygon points="399.80,555.40 413.60,551.30 425.20,560.60 407.78,564.21"/></clipPath>
<g clip-path="url(#k30)">
<polygon points="401.22,560.70 413.36,557.09 423.57,565.27 408.24,568.45" class="flr"/>
<line x1="401.22" y1="555.70" x2="401.22" y2="560.70" class="ivg"/>
<line x1="413.36" y1="552.09" x2="413.36" y2="557.09" class="ivg"/>
</g>
<clipPath id="k31"><polygon points="394.30,567.00 407.78,564.21 416.20,573.50 402.70,574.40"/></clipPath>
<g clip-path="url(#k31)">
<polygon points="395.61,572.33 407.48,569.88 414.89,578.05 403.01,578.85" class="flr"/>
<line x1="395.61" y1="567.33" x2="395.61" y2="572.33" class="ivg"/>
<line x1="407.48" y1="564.88" x2="407.48" y2="569.88" class="ivg"/>
</g>
<clipPath id="k32"><polygon points="407.78,564.21 425.20,560.60 435.50,565.70 416.20,573.50"/></clipPath>
<g clip-path="url(#k32)">
<polygon points="409.39,569.42 424.72,566.25 433.78,570.74 416.80,577.60" class="flr"/>
<line x1="409.39" y1="564.42" x2="409.39" y2="569.42" class="ivg"/>
<line x1="424.72" y1="561.25" x2="424.72" y2="566.25" class="ivg"/>
</g>
<polygon points="388.70,560.63 413.38,553.88 429.69,564.75 403.43,571.75" class="ig"/>
<line x1="399.80" y1="555.40" x2="416.20" y2="573.50" class="div"/>
<line x1="394.30" y1="567.00" x2="425.20" y2="560.60" class="div"/>
<polyline points="383.40,559.60 383.40,567.00 402.70,584.40 435.50,575.70 435.50,565.70" class="ol2"/>
<line x1="402.70" y1="574.40" x2="402.70" y2="584.40" class="ol2"/>
<path d="M383.40,559.60 L413.60,551.30 L435.50,565.70 L425.38,568.38 C424.18,568.68 423.57,571.48 422.77,571.48 L418.52,572.60 C417.72,572.60 417.40,571.12 416.20,570.82 L402.70,574.40 Z" class="ol"/>
<line x1="370.00" y1="625.40" x2="370.00" y2="710.40" class="gd"/>
<line x1="392.50" y1="633.40" x2="392.50" y2="717.40" class="gd"/>
<line x1="462.00" y1="625.70" x2="462.00" y2="710.50" class="gd"/>
<line x1="370.00" y1="625.40" x2="439.40" y2="618.50" class="gd"/>
<line x1="392.50" y1="633.40" x2="462.00" y2="625.70" class="gd"/>
<line x1="370.00" y1="625.40" x2="392.50" y2="633.40" class="gd"/>
<line x1="439.40" y1="618.50" x2="462.00" y2="625.70" class="gd"/>
<line x1="370.00" y1="710.40" x2="392.50" y2="717.40" class="gd"/>
<line x1="392.50" y1="717.40" x2="462.00" y2="710.50" class="gd"/>
<line x1="439.00" y1="629.20" x2="439.00" y2="655.20" class="gd2"/>
<polyline points="394.50,659.90 439.00,655.20 462.00,663.20" class="gd"/>
<line x1="370.50" y1="700.40" x2="392.00" y2="705.40" class="gd2"/>
<polyline points="394.20,671.60 394.20,706.00 461.10,699.71 461.10,665.31" class="dr"/>
<line x1="427.65" y1="668.96" x2="427.65" y2="702.86" class="drm"/>
<path d="M394.20,671.60 L405.52,670.54 C407.02,670.74 407.52,672.65 409.12,672.50 L411.92,672.23 C413.52,672.08 414.02,669.80 415.52,669.60 L426.85,668.53" class="dr"/>
<path d="M428.45,668.38 L439.77,667.32 C441.27,667.52 441.77,669.43 443.38,669.28 L446.17,669.01 C447.77,668.86 448.27,666.58 449.77,666.38 L461.10,665.31" class="dr"/>
<path d="M394.20,683.07 L405.52,682.00 C407.02,682.20 407.52,684.11 409.12,683.96 L411.92,683.70 C413.52,683.55 414.02,681.26 415.52,681.06 L426.85,680.00" class="dr"/>
<path d="M428.45,679.85 L439.77,678.78 C441.27,678.98 441.77,680.89 443.38,680.74 L446.17,680.48 C447.77,680.33 448.27,678.04 449.77,677.84 L461.10,676.78" class="dr"/>
<path d="M394.20,694.53 L405.52,693.47 C407.02,693.67 407.52,695.58 409.12,695.43 L411.92,695.17 C413.52,695.02 414.02,692.73 415.52,692.53 L426.85,691.46" class="dr"/>
<path d="M428.45,691.31 L439.77,690.25 C441.27,690.45 441.77,692.36 443.38,692.21 L446.17,691.95 C447.77,691.80 448.27,689.51 449.77,689.31 L461.10,688.24" class="dr"/>
<line x1="370.00" y1="607.20" x2="370.00" y2="618.50" class="tk"/>
<line x1="370.00" y1="612.40" x2="373.30" y2="612.40" class="tk"/>
<text x="398.10" y="615.00" class="dim" textLength="13.50" lengthAdjust="spacingAndGlyphs">80</text>
<line x1="440.30" y1="600.60" x2="440.30" y2="611.10" class="tk"/>
<line x1="435.50" y1="606.20" x2="442.50" y2="606.20" class="tk"/>
<text x="443.20" y="615.00" class="dim" textLength="14.30" lengthAdjust="spacingAndGlyphs">45</text>
<line x1="463.00" y1="606.70" x2="463.00" y2="618.50" class="tk"/>
<line x1="460.20" y1="612.20" x2="463.00" y2="612.20" class="tk"/>
<line x1="353.50" y1="665.40" x2="363.60" y2="665.40" class="tk"/>
<line x1="358.90" y1="665.40" x2="358.90" y2="672.40" class="tk"/>
<line x1="353.50" y1="700.60" x2="363.60" y2="700.60" class="tk"/>
<line x1="358.90" y1="700.60" x2="358.90" y2="693.60" class="tk"/>
<text transform="translate(362.80,694.60) rotate(-90)" class="dim" textLength="21.20" lengthAdjust="spacingAndGlyphs">35,5</text>
<text x="476.30" y="629.80" class="code">800117</text>
<clipPath id="k33"><polygon points="681.60,560.10 697.80,555.80 708.41,566.26 695.50,569.30"/></clipPath>
<g clip-path="url(#k33)">
<polygon points="683.31,564.83 697.56,561.05 706.90,570.25 695.54,572.93" class="flr"/>
<line x1="683.31" y1="560.43" x2="683.31" y2="564.83" class="ivg"/>
<line x1="697.56" y1="556.65" x2="697.56" y2="561.05" class="ivg"/>
</g>
<clipPath id="k34"><polygon points="697.80,555.80 711.70,551.20 724.80,562.40 708.41,566.26"/></clipPath>
<g clip-path="url(#k34)">
<polygon points="699.35,560.57 711.58,556.53 723.11,566.38 708.68,569.78" class="flr"/>
<line x1="699.35" y1="556.17" x2="699.35" y2="560.57" class="ivg"/>
<line x1="711.58" y1="552.13" x2="711.58" y2="556.53" class="ivg"/>
</g>
<clipPath id="k35"><polygon points="695.50,569.30 708.41,566.26 719.40,577.10 705.50,580.20"/></clipPath>
<g clip-path="url(#k35)">
<polygon points="696.90,574.17 708.26,571.49 717.94,581.03 705.70,583.76" class="flr"/>
<line x1="696.90" y1="569.77" x2="696.90" y2="574.17" class="ivg"/>
<line x1="708.26" y1="567.09" x2="708.26" y2="571.49" class="ivg"/>
</g>
<clipPath id="k36"><polygon points="708.41,566.26 724.80,562.40 738.70,570.10 719.40,577.10"/></clipPath>
<g clip-path="url(#k36)">
<polygon points="710.14,570.98 724.56,567.59 736.80,574.36 719.81,580.52" class="flr"/>
<line x1="710.14" y1="566.58" x2="710.14" y2="570.98" class="ivg"/>
<line x1="724.56" y1="563.19" x2="724.56" y2="567.59" class="ivg"/>
</g>
<polygon points="686.80,561.17 711.39,553.88 732.96,569.24 706.35,577.31" class="ig"/>
<line x1="697.80" y1="555.80" x2="719.40" y2="577.10" class="div"/>
<line x1="695.50" y1="569.30" x2="724.80" y2="562.40" class="div"/>
<polyline points="681.60,560.10 681.60,566.30 705.50,589.00 738.70,578.90 738.70,570.10" class="ol2"/>
<line x1="705.50" y1="580.20" x2="705.50" y2="589.00" class="ol2"/>
<path d="M681.60,560.10 L711.70,551.20 L738.70,570.10 L728.49,573.21 C727.29,573.51 726.71,576.39 725.91,576.39 L721.70,577.67 C720.90,577.67 720.60,576.27 719.40,575.97 L705.50,580.20 Z" class="ol"/>
<line x1="667.50" y1="622.70" x2="667.80" y2="710.50" class="gd"/>
<line x1="698.00" y1="632.70" x2="698.20" y2="717.60" class="gd"/>
<line x1="767.00" y1="625.20" x2="767.50" y2="711.90" class="gd"/>
<line x1="667.50" y1="622.70" x2="738.00" y2="616.20" class="gd"/>
<line x1="698.00" y1="632.70" x2="767.00" y2="625.20" class="gd"/>
<line x1="667.50" y1="622.70" x2="698.00" y2="632.70" class="gd"/>
<line x1="738.00" y1="616.20" x2="767.00" y2="625.20" class="gd"/>
<line x1="667.80" y1="710.50" x2="698.20" y2="717.60" class="gd"/>
<line x1="698.20" y1="717.60" x2="767.50" y2="711.90" class="gd"/>
<line x1="737.00" y1="630.20" x2="737.00" y2="653.70" class="gd2"/>
<polyline points="700.00,656.70 737.00,653.70 766.00,662.20" class="gd"/>
<line x1="668.30" y1="700.50" x2="697.70" y2="705.60" class="gd2"/>
<polyline points="699.10,671.60 699.10,706.00 766.40,699.67 766.40,665.27" class="dr"/>
<line x1="732.75" y1="668.94" x2="732.75" y2="702.84" class="drm"/>
<path d="M699.10,671.60 L710.53,670.53 C712.03,670.73 712.53,672.64 714.13,672.49 L716.93,672.22 C718.53,672.07 719.03,669.79 720.53,669.59 L731.95,668.51" class="dr"/>
<path d="M733.55,668.36 L744.97,667.29 C746.47,667.49 746.97,669.40 748.57,669.25 L751.37,668.99 C752.97,668.84 753.47,666.55 754.97,666.35 L766.40,665.27" class="dr"/>
<path d="M699.10,683.07 L710.53,681.99 C712.03,682.19 712.53,684.10 714.13,683.95 L716.93,683.69 C718.53,683.54 719.03,681.25 720.53,681.05 L731.95,679.98" class="dr"/>
<path d="M733.55,679.83 L744.97,678.75 C746.47,678.95 746.97,680.87 748.57,680.72 L751.37,680.45 C752.97,680.30 753.47,678.01 754.97,677.81 L766.40,676.74" class="dr"/>
<path d="M699.10,694.53 L710.53,693.46 C712.03,693.66 712.53,695.57 714.13,695.42 L716.93,695.16 C718.53,695.01 719.03,692.72 720.53,692.52 L731.95,691.45" class="dr"/>
<path d="M733.55,691.30 L744.97,690.22 C746.47,690.42 746.97,692.33 748.57,692.18 L751.37,691.92 C752.97,691.77 753.47,689.48 754.97,689.28 L766.40,688.21" class="dr"/>
<line x1="667.00" y1="603.70" x2="667.00" y2="615.20" class="tk"/>
<line x1="667.00" y1="609.70" x2="670.30" y2="609.70" class="tk"/>
<text x="698.40" y="611.70" class="dim" textLength="13.70" lengthAdjust="spacingAndGlyphs">80</text>
<line x1="737.80" y1="598.20" x2="737.80" y2="609.20" class="tk"/>
<line x1="733.00" y1="604.20" x2="741.00" y2="604.20" class="tk"/>
<text x="745.90" y="612.70" class="dim" textLength="13.20" lengthAdjust="spacingAndGlyphs">60</text>
<line x1="767.50" y1="608.20" x2="767.50" y2="618.20" class="tk"/>
<line x1="764.70" y1="612.70" x2="767.50" y2="612.70" class="tk"/>
<line x1="651.70" y1="663.50" x2="660.60" y2="663.50" class="tk"/>
<line x1="656.20" y1="663.50" x2="656.20" y2="670.50" class="tk"/>
<line x1="651.70" y1="698.30" x2="660.60" y2="698.30" class="tk"/>
<line x1="656.20" y1="698.30" x2="656.20" y2="691.30" class="tk"/>
<text transform="translate(660.70,692.30) rotate(-90)" class="dim" textLength="20.80" lengthAdjust="spacingAndGlyphs">35,5</text>
<text x="781.20" y="629.80" class="code">800118</text>
</svg>
</body></html>
